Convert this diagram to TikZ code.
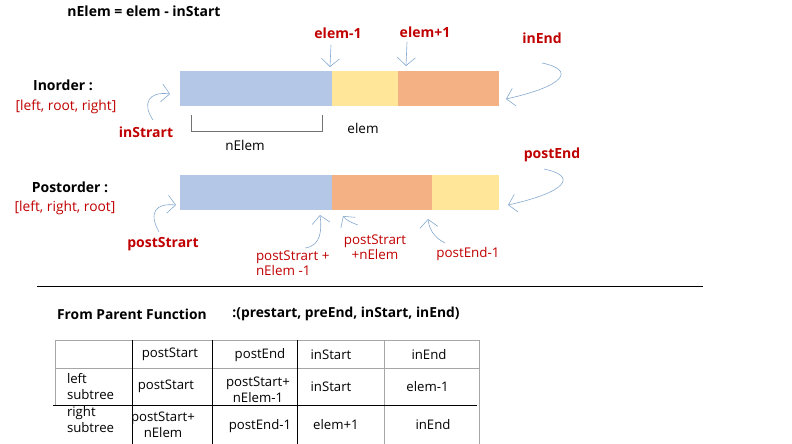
\documentclass[tikz,border=0pt]{standalone}
\usepackage{fontspec}
\setmainfont{Open Sans}
\usetikzlibrary{arrows.meta}
\definecolor{redlbl}{HTML}{C00000}
\definecolor{barblue}{HTML}{B4C7E7}
\definecolor{baryellow}{HTML}{FFE699}
\definecolor{barorange}{HTML}{F4B183}
\definecolor{arrowblue}{HTML}{86A9D0}
\definecolor{gridgray}{HTML}{A6A6A6}
\tikzset{
  base/.style={inner sep=0pt, outer sep=0pt},
  blk/.style={base, font=\fontsize{13.5}{16}\selectfont},
  blkb/.style={base, font=\bfseries\fontsize{14}{16}\selectfont},
  redr/.style={base, text=redlbl, font=\fontsize{13.8}{16}\selectfont},
  redb/.style={base, text=redlbl, font=\bfseries\fontsize{14}{16}\selectfont, align=center},
  redm/.style={base, text=redlbl, font=\fontsize{13.4}{15}\selectfont},
  cell/.style={base, font=\fontsize{13.2}{16}\selectfont, align=center},
  arr/.style={draw=arrowblue, line width=0.6pt, -{Straight Barb[length=8pt,width=18pt]}},
  thin/.style={draw=gridgray, line width=0.8pt},
  thick/.style={draw=black, line width=0.9pt},
}
\begin{document}
\begin{tikzpicture}[x=1pt,y=-1pt]
\useasboundingbox (0,0) rectangle (792,444);
% title
\node[blkb, font=\bfseries\fontsize{14}{16}\selectfont] (title) at (144,11) {nElem = elem - inStart};
% inorder bar
\fill[barblue] (180,71) rectangle (331.5,106);
\fill[baryellow] (331.5,71) rectangle (398,106);
\fill[barorange] (398,71) rectangle (498.5,106);
% postorder bar
\fill[barblue] (180,175) rectangle (332,210);
\fill[barorange] (332,175) rectangle (432,210);
\fill[baryellow] (432,175) rectangle (498.5,210);
% labels left
\node[blkb] (inord) at (63,85) {Inorder :};
\node[redr] (inlist) at (66,107) {[left, root, right]};
\node[blkb] (postord) at (70,187) {Postorder :};
\node[redr] (postlist) at (65,208) {[left, right, root]};
% red labels
\node[redb] (instrart) at (146,132) {inStrart};
\node[redb] (elemm) at (338,33) {elem-1};
\node[redb] (elemp) at (425,32) {elem+1};
\node[redb] (inend) at (542,38) {inEnd};
\node[redb] (postend) at (552,155) {postEnd};
\node[redb] (poststrart) at (163,244) {postStrart};
\node[redm, align=left, anchor=north west] (psne1) at (256,251) {postStrart +\\nElem -1};
\node[redm, align=center] (psne) at (375,247.5) {postStrart\\+nElem};
\node[redm] (pend1) at (468,254) {postEnd-1};
% black small labels
\node[blk] (elemlbl) at (363,128) {elem};
\node[blk] (nelemlbl) at (245,145) {nElem};
% bracket
\draw[draw=gray!90!black, line width=0.8pt] (191,115) -- (191,131) -- (322,131) -- (322,115);
% arrows
\coordinate (e1s) at (331,45); \coordinate (e1t) at (330,67);
\draw[arr] (e1s) -- (e1t);
\coordinate (e2s) at (407,42); \coordinate (e2t) at (406,66);
\draw[arr] (e2s) -- (e2t);
\coordinate (iss) at (153,120); \coordinate (ist) at (170,94);
\draw[arr] (iss) .. controls (142,104) and (148,91) .. (ist);
\coordinate (ies) at (542,63); \coordinate (iet) at (506,99);
\draw[arr] (ies) .. controls (576,70) and (565,86) .. (iet);
\coordinate (pes) at (544,169); \coordinate (pet) at (508,205);
\draw[arr] (pes) .. controls (578,176) and (567,192) .. (pet);
\coordinate (pss) at (159,232); \coordinate (pst) at (176,205);
\draw[arr] (pss) .. controls (148,212) and (156,203) .. (pst);
\coordinate (pn1s) at (305,248); \coordinate (pn1t) at (320,215);
\draw[arr] (pn1s) .. controls (321,246) and (322,230) .. (pn1t);
\coordinate (pns) at (358,225); \coordinate (pnt) at (343,216);
\draw[arr] (pns) .. controls (350,222) and (346,220) .. (pnt);
\coordinate (pe1s) at (445,243); \coordinate (pe1t) at (428,219);
\draw[arr] (pe1s) .. controls (433,237) and (429,228) .. (pe1t);
% separator
\draw[line width=0.9pt] (37,286) -- (703,286);
\node[blkb, font=\bfseries\fontsize{13.8}{16}\selectfont] (fpf) at (132,314) {From Parent Function};
\node[blkb, font=\bfseries\fontsize{13.8}{16}\selectfont] (sig) at (346,314) {:(prestart, preEnd, inStart, inEnd)};
% table lines
\draw[thin] (55,340) -- (479,340);
\draw[thin] (55,340) -- (55,406);
\draw[thin] (55,368) -- (479,368);
\draw[thin] (384,340) -- (384,444);
\draw[thin] (479,340) -- (479,444);
\draw[thick] (132.7,340) -- (132.7,444);
\draw[thick] (212.7,340) -- (212.7,444);
\draw[thick] (297,340) -- (297,444);
\draw[thick] (53,405.7) -- (477,405.7);
% table text
\node[cell] (h1) at (170,354) {postStart};
\node[cell] (h2) at (260,355) {postEnd};
\node[cell] (h3) at (331,355) {inStart};
\node[cell] (h4) at (429,355) {inEnd};
\node[cell, align=left, anchor=west] (r1) at (67,387) {left\\subtree};
\node[cell] (r1c1) at (166,386) {postStart};
\node[cell] (r1c2) at (258,389.5) {postStart+\\nElem-1};
\node[cell] (r1c3) at (331,387) {inStart};
\node[cell] (r1c4) at (427.5,387) {elem-1};
\node[cell, align=left, anchor=west] (r2) at (67,420) {right\\subtree};
\node[cell] (r2c1) at (163,425) {postStart+\\nElem};
\node[cell] (r2c2) at (260,426) {postEnd-1};
\node[cell] (r2c3) at (336,425) {elem+1};
\node[cell] (r2c4) at (433,425) {inEnd};
\end{tikzpicture}
\end{document}
